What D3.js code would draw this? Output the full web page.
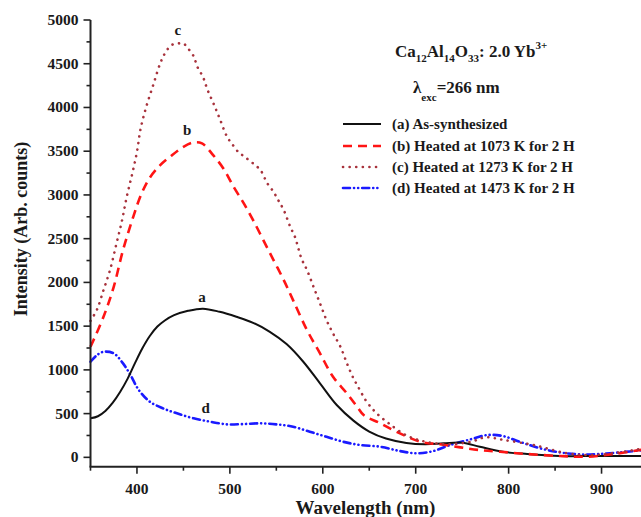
<!DOCTYPE html>
<html>
<head>
<meta charset="utf-8">
<script src="https://cdn.jsdelivr.net/npm/d3@7"></script>
<style>
  html, body { margin: 0; padding: 0; background: #fff; overflow: hidden; }
  svg { display: block; }
  text { font-family: "Liberation Serif", "Times New Roman", serif; font-weight: bold; fill: #1a1a1a; }
</style>
</head>
<body>
<svg id="chart" width="641" height="517"></svg>
<script>
// Emission spectra of Ca12Al14O33:2.0 Yb3+ after different heat treatments
const aWl  = [350,358,366,374,382,390,398,406,414,422,430,440,455,471,489,507,525,543,561,579,597,615,633,650,668,690,710,730,750,769,794,820,855,891,945];
const aInt = [446,470,530,625,750,900,1080,1250,1390,1495,1565,1625,1675,1700,1664,1607,1538,1435,1295,1093,846,598,420,295,215,165,150,160,167,121,64,38,15,15,15];

const bWl  = [350,364,375,385,396,405,414,425,436,450,461,470,482,493,504,515,525,536,547,558,568,583,597,611,626,637,644,662,683,705,726,748,769,791,820,855,884,913,945];
const bInt = [1264,1607,1950,2369,2750,3017,3200,3340,3440,3550,3600,3589,3455,3303,3093,2903,2712,2483,2255,2026,1797,1455,1189,921,731,578,483,389,274,178,149,114,83,64,38,15,7,38,90];

const cWl  = [350,357,364,371,378,384,389,395,400,404,410,418,425,430,437,444,450,455,461,465,471,476,483,489,497,502,509,516,525,533,540,547,552,558,565,570,577,583,590,597,604,611,619,626,633,638,646,653,660,671,690,710,735,760,775,794,827,863,888,915,945];
const cInt = [1560,1690,1912,2141,2446,2712,2978,3246,3492,3760,4007,4274,4503,4617,4712,4731,4731,4674,4586,4464,4350,4200,4030,3874,3664,3589,3492,3435,3360,3283,3138,3035,2941,2826,2635,2521,2274,2141,1950,1760,1569,1417,1264,1074,903,807,655,560,483,389,250,180,150,180,229,200,140,46,26,50,103];

const dWl  = [350,357,364,375,385,393,402,414,428,443,461,479,497,515,533,550,568,586,604,622,640,662,683,701,719,737,759,777,794,812,834,855,877,898,920,945];
const dInt = [1093,1169,1207,1189,1074,941,769,635,560,503,446,407,377,381,389,377,350,293,235,178,141,121,72,46,72,141,206,255,243,178,103,57,34,38,57,83];

const seriesNames  = ["(a) As-synthesized", "(b) Heated at 1073 K for 2 H", "(c) Heated at 1273 K for 2 H", "(d) Heated at 1473 K for 2 H"];
const seriesColors = ["#111111", "#ff1414", "#a8323c", "#1a1aff"];
const seriesDashes = [null, "9,6", "0.1,6.5", "7,4,0.1,4,0.1,4"];
const seriesWidths = [2, 2.6, 2.6, 2.6];
const seriesCaps   = ["butt", "butt", "round", "round"];

const curveLetters = ["a", "b", "c", "d"];
const letterWl     = [470, 454, 444, 474];
const letterInt    = [1775, 3683, 4826, 506];

const yMajorTicks = d3.range(0, 5001, 500);
const yMinorTicks = d3.range(250, 5000, 500);
const xMajorTicks = [400, 500, 600, 700, 800, 900];
const xMinorTicks = [350, 450, 550, 650, 750, 850, 950];

const svg = d3.select("#chart");

const x = d3.scaleLinear().domain([350, 950]).range([90.5, 648]);
const y = d3.scaleLinear().domain([-107, 5000]).range([466.7, 20]);
const axisColor = "#222";

// plotted spectra
const line = d3.line().curve(d3.curveCatmullRom.alpha(0.5)).x(d => x(d[0])).y(d => y(d[1]));
const series = [[aWl, aInt], [bWl, bInt], [cWl, cInt], [dWl, dInt]];
// draw d first, then a, b, c on top
[3, 0, 1, 2].forEach(i => {
  const pts = series[i][0].map((w, k) => [w, series[i][1][k]]);
  svg.append("path")
    .attr("d", line(pts))
    .attr("fill", "none")
    .attr("stroke", seriesColors[i])
    .attr("stroke-width", seriesWidths[i])
    .attr("stroke-dasharray", seriesDashes[i])
    .attr("stroke-linecap", seriesCaps[i])
    .attr("stroke-linejoin", "round");
});

// axis lines
svg.append("line").attr("x1", x(350)).attr("x2", x(350)).attr("y1", y(5000)).attr("y2", y(-107))
  .attr("stroke", axisColor).attr("stroke-width", 2);
svg.append("line").attr("x1", x(350) - 1).attr("x2", 641).attr("y1", y(-107)).attr("y2", y(-107))
  .attr("stroke", axisColor).attr("stroke-width", 2);

// y ticks
svg.selectAll(".ymaj").data(yMajorTicks).enter().append("line")
  .attr("x1", x(350) - 7).attr("x2", x(350)).attr("y1", d => y(d)).attr("y2", d => y(d))
  .attr("stroke", axisColor).attr("stroke-width", 1.6);
svg.selectAll(".ymin").data(yMinorTicks).enter().append("line")
  .attr("x1", x(350) - 4).attr("x2", x(350)).attr("y1", d => y(d)).attr("y2", d => y(d))
  .attr("stroke", axisColor).attr("stroke-width", 1.6);
svg.selectAll(".ylab").data(yMajorTicks).enter().append("text")
  .attr("x", x(350) - 12).attr("y", d => y(d) + 5)
  .attr("text-anchor", "end").attr("font-size", 15.5)
  .text(d => d);

// x ticks
svg.selectAll(".xmaj").data(xMajorTicks).enter().append("line")
  .attr("x1", d => x(d)).attr("x2", d => x(d)).attr("y1", y(-107)).attr("y2", y(-107) + 7)
  .attr("stroke", axisColor).attr("stroke-width", 1.6);
svg.selectAll(".xmin").data(xMinorTicks).enter().append("line")
  .attr("x1", d => x(d)).attr("x2", d => x(d)).attr("y1", y(-107)).attr("y2", y(-107) + 4)
  .attr("stroke", axisColor).attr("stroke-width", 1.6);
svg.selectAll(".xlab").data(xMajorTicks).enter().append("text")
  .attr("x", d => x(d)).attr("y", 493.5)
  .attr("text-anchor", "middle").attr("font-size", 15.5)
  .text(d => d);

// axis titles
svg.append("text").attr("x", 365.5).attr("y", 514).attr("text-anchor", "middle")
  .attr("font-size", 19).text("Wavelength (nm)");
svg.append("text").attr("transform", "translate(27,229) rotate(-90)").attr("text-anchor", "middle")
  .attr("font-size", 18).text("Intensity (Arb. counts)");

// curve letters
curveLetters.forEach((t, i) => {
  svg.append("text").attr("x", x(letterWl[i])).attr("y", y(letterInt[i]))
    .attr("text-anchor", "middle").attr("font-size", 15).text(t);
});

// composition header
const h1 = svg.append("text").attr("x", 395).attr("y", 57).attr("font-size", 17);
h1.append("tspan").text("Ca");
h1.append("tspan").attr("font-size", 11).attr("dy", 5).text("12");
h1.append("tspan").attr("dy", -5).text("Al");
h1.append("tspan").attr("font-size", 11).attr("dy", 5).text("14");
h1.append("tspan").attr("dy", -5).text("O");
h1.append("tspan").attr("font-size", 11).attr("dy", 5).text("33");
h1.append("tspan").attr("dy", -5).text(": 2.0 Yb");
h1.append("tspan").attr("font-size", 11).attr("dy", -8).text("3+");

const h2 = svg.append("text").attr("x", 413).attr("y", 93).attr("font-size", 17);
h2.append("tspan").text("λ");
h2.append("tspan").attr("font-size", 11).attr("dy", 8).text("exc");
h2.append("tspan").attr("dy", -8).text("=266 nm");

// legend
const legendRows = [124, 146, 167, 188];
seriesNames.forEach((name, i) => {
  svg.append("line").attr("x1", 343).attr("x2", 381).attr("y1", legendRows[i]).attr("y2", legendRows[i])
    .attr("stroke", seriesColors[i]).attr("stroke-width", seriesWidths[i])
    .attr("stroke-dasharray", seriesDashes[i])
    .attr("stroke-linecap", seriesCaps[i]);
  svg.append("text").attr("x", 392).attr("y", legendRows[i] + 5).attr("font-size", 15).text(name);
});
</script>
</body>
</html>
